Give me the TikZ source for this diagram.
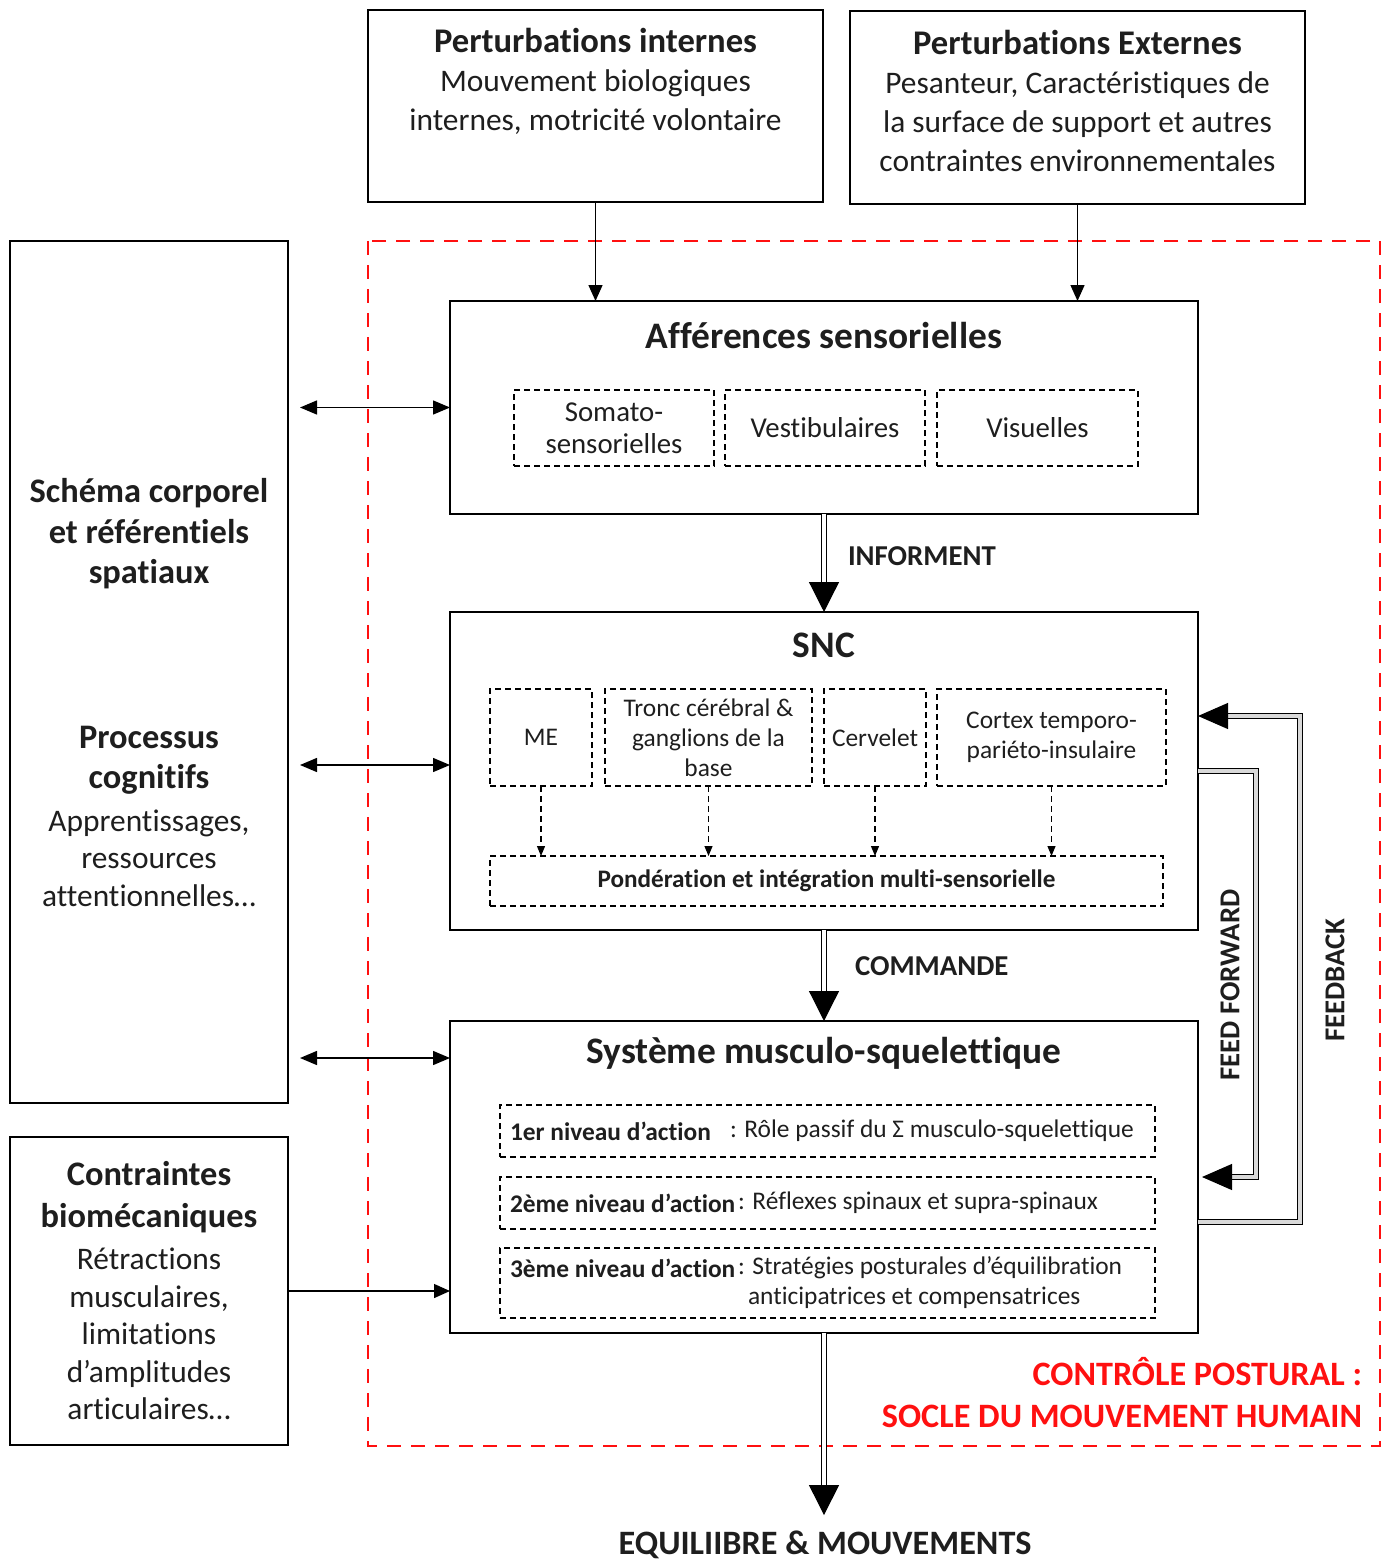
\documentclass[tikz,border=0pt]{standalone}
\usepackage{fontspec}
\setmainfont[Ligatures=NoCommon]{Carlito}
\usetikzlibrary{arrows.meta}
\definecolor{txt}{HTML}{1E1E1E}
\definecolor{redc}{HTML}{FF1010}
\begin{document}
\begin{tikzpicture}[x=0.5pt,y=-0.5pt,
  every node/.style={text=txt,inner sep=0pt,outer sep=0pt},
  mainbox/.style={draw=black,line width=1.15pt,fill=none},
  dbox/.style={draw=black,line width=0.6pt,dash pattern=on 3pt off 2pt},
  big/.style={font=\fontsize{15.7}{19.5}\selectfont,align=center},
  head/.style={font=\bfseries\fontsize{18.7}{22}\selectfont},
  mid/.style={font=\fontsize{14.4}{16}\selectfont,align=center},
  small/.style={font=\fontsize{12.7}{15}\selectfont,align=center},
  arr/.style={line width=0.7pt,-{Triangle[length=8pt,width=7pt]}},
  biarr/.style={line width=0.7pt,{Triangle[length=8.5pt,width=7pt]}-{Triangle[length=8.5pt,width=7pt]}},
  dasharr/.style={line width=0.6pt,dash pattern=on 3pt off 2pt,-{Triangle[length=5pt,width=4pt]}},
  dblarr/.style={draw=black,double=white,double distance=1.6pt,line width=0.6pt,-{Triangle[length=15pt,width=15pt]}},
  trparr/.style={draw=black,double=gray!30,double distance=1.8pt,line width=0.55pt,-{Triangle[length=15pt,width=13pt]}},
  lbl/.style={font=\bfseries\fontsize{14.4}{16}\selectfont}
]
\useasboundingbox (0,0) rectangle (1392,1562);

% red frame
\draw[redc,line width=1.3pt,dash pattern=on 7pt off 5pt] (368,241) rectangle (1380,1446);

% top boxes
\node[mainbox,minimum width=227.5pt,minimum height=96pt] (pi) at (595.5,106) {};
\node[big] (pit) at (595.5,81) {{\bfseries\fontsize{17.3}{19.5}\selectfont Perturbations internes}\\Mouvement biologiques\\internes, motricité volontaire};
\node[mainbox,minimum width=227.5pt,minimum height=96.5pt] (pe) at (1077.5,107.5) {};
\node[big] (pet) at (1077.5,100.5) {{\bfseries\fontsize{17.3}{19.5}\selectfont Perturbations Externes}\\Pesanteur, Caractéristiques de\\la surface de support et autres\\contraintes environnementales};

% left boxes
\node[mainbox,minimum width=139pt,minimum height=431pt] (lb) at (149,672) {};
\node[big,font=\bfseries\fontsize{17.2}{20.25}\selectfont] (lbt1) at (149,534) {Schéma corporel\\et référentiels\\spatiaux};
\node[big,font=\bfseries\fontsize{17.2}{20}\selectfont] (lbt2) at (149,760) {Processus\\cognitifs};
\node[big,font=\fontsize{15.7}{18.75}\selectfont] (lbt3) at (149,858) {Apprentissages,\\ressources\\attentionnelles…};

\node[mainbox,minimum width=139pt,minimum height=154pt] (cb) at (149,1291) {};
\node[big,font=\bfseries\fontsize{17.2}{21}\selectfont] (cbt1) at (149,1197) {Contraintes\\biomécaniques};
\node[big,font=\fontsize{15.7}{18.8}\selectfont] (cbt2) at (149,1334) {Rétractions\\musculaires,\\limitations\\d’amplitudes\\articulaires…};

% Afférences
\node[mainbox,minimum width=374pt,minimum height=106.5pt] (aff) at (824,407.5) {};
\node[head] (afft) at (824,336) {Afférences sensorielles};
\node[dbox,minimum width=100pt,minimum height=38pt] (som) at (614,428) {};
\node[mid] at (som) {Somato-\\sensorielles};
\node[dbox,minimum width=100pt,minimum height=38pt] (ves) at (825,428) {};
\node[mid] at (ves) {Vestibulaires};
\node[dbox,minimum width=100.5pt,minimum height=38pt] (vis) at (1037.5,428) {};
\node[mid] at (vis) {Visuelles};

% SNC
\node[mainbox,minimum width=374pt,minimum height=159pt] (snc) at (824,771) {};
\node[head] (snct) at (824,645) {SNC};
\node[dbox,minimum width=51pt,minimum height=48.5pt] (me) at (541,737.5) {};
\node[small] at (me) {ME};
\node[dbox,minimum width=103.5pt,minimum height=48.5pt] (tro) at (708.5,737.5) {};
\node[small] at (tro) {Tronc cérébral \&\\ganglions de la\\base};
\node[dbox,minimum width=51pt,minimum height=48.5pt] (cer) at (875,737.5) {};
\node[small] at (cer) {Cervelet};
\node[dbox,minimum width=114.5pt,minimum height=48.5pt] (cor) at (1051.5,737.5) {};
\node[small] at (cor) {Cortex temporo-\\pariéto-insulaire};
\node[dbox,minimum width=336.5pt,minimum height=25pt] (pond) at (826.5,881) {};
\node[small,font=\bfseries\fontsize{12.6}{14}\selectfont] at (pond) {Pondération et intégration multi-sensorielle};
\foreach \n in {me,tro,cer,cor} \draw[dasharr] (\n.south) -- (\n.south |- pond.north);

% Système
\node[mainbox,minimum width=374pt,minimum height=156pt] (sys) at (824,1177) {};
\node[head] (syst) at (824,1053) {Système musculo-squelettique};
\node[dbox,minimum width=327.5pt,minimum height=26pt] (n1) at (827.5,1131) {};
\node[dbox,minimum width=327.5pt,minimum height=26pt] (n2) at (827.5,1203) {};
\node[dbox,minimum width=327.5pt,minimum height=35pt] (n3) at (827.5,1283) {};
\node[small,anchor=west] at (510,1131) {\textbf{1er niveau d’action}};
\node[small,anchor=west] at (730,1131) {: Rôle passif du Σ musculo-squelettique};
\node[small,anchor=west] at (510,1203) {\textbf{2ème niveau d’action}};
\node[small,anchor=west] at (738,1203) {: Réflexes spinaux et supra-spinaux};
\node[small,anchor=west] at (510,1268) {\textbf{3ème niveau d’action}};
\node[small,anchor=west] at (738,1268) {: Stratégies posturales d’équilibration};
\node[small,anchor=west] at (748,1298) {anticipatrices et compensatrices};

% arrows from top
\draw[arr] (pi.south) -- (pi.south |- aff.north);
\draw[arr] (pe.south) -- (pe.south |- aff.north);

% main double arrows
\draw[dblarr] (aff.south) -- (snc.north);
\node[lbl,anchor=west] at (848,556) {INFORMENT};
\draw[dblarr] (snc.south) -- (sys.north);
\node[lbl,anchor=west] at (855,966) {COMMANDE};

\node[font=\bfseries\fontsize{17.1}{19}\selectfont] (eq) at (825,1545) {EQUILIIBRE \& MOUVEMENTS};
\draw[dblarr,shorten >=8pt] (sys.south) -- (sys.south |- eq.north);

% left arrows
\draw[biarr,shorten <=6pt] (aff.west -| lb.east) -- (aff.west);
\draw[biarr,shorten <=6pt] ([yshift=3pt]snc.west -| lb.east) -- ([yshift=3pt]snc.west);
\draw[biarr,shorten <=6pt] (lb.east |- 0,1058) -- (sys.west |- 0,1058);
\draw[arr] (cb.east) -- (cb.east -| sys.west);

% feed forward / feedback
\draw[trparr] (snc.east) -- ++(29pt,0) |- ([xshift=2pt]sys.east);
\draw[trparr] ([yshift=-22.5pt]sys.east) -- ++(51pt,0) |- ([yshift=27.5pt]snc.east);
\node[lbl,rotate=90] at (1230,985) {FEED FORWARD};
\node[lbl,rotate=90] at (1335,980) {FEEDBACK};

% red text
\node[anchor=east,align=right,text=redc,font=\bfseries\fontsize{17.1}{21}\selectfont] at (1362,1393) {CONTRÔLE POSTURAL :\\SOCLE DU MOUVEMENT HUMAIN};
\end{tikzpicture}
\end{document}
